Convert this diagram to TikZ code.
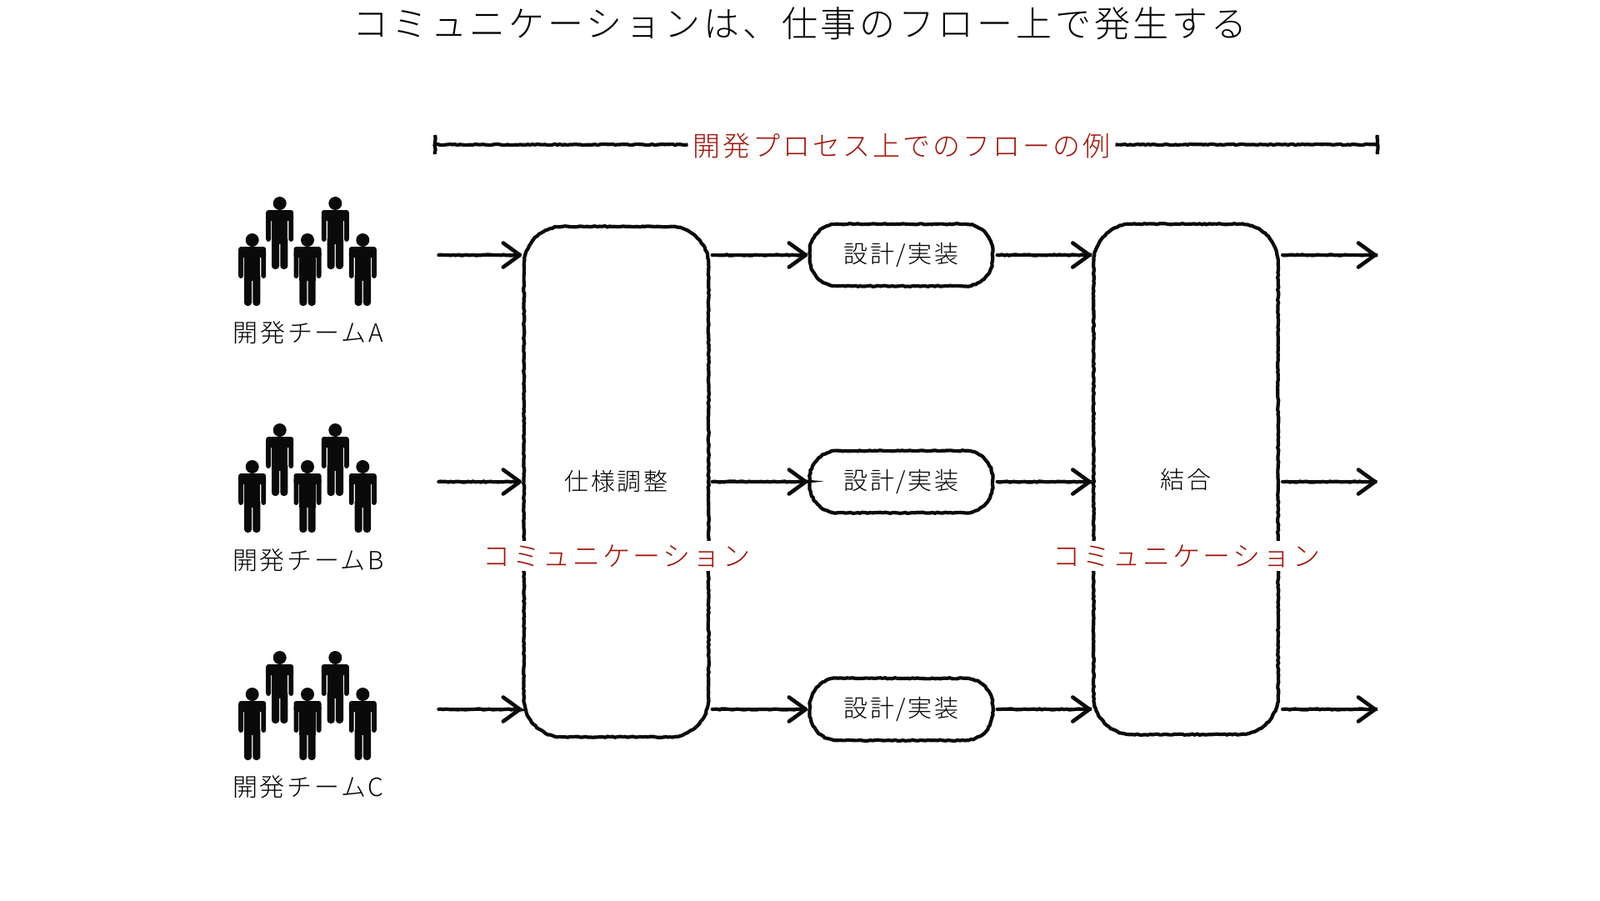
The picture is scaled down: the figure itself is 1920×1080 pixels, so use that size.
\documentclass[tikz,border=0pt]{standalone}
\usepackage{fontspec}
\usetikzlibrary{arrows.meta,decorations.pathmorphing}
\setmainfont{Noto Sans CJK JP Light}
\newfontfamily\jptrack[LetterSpace=9]{Noto Sans CJK JP Light}
\definecolor{inkred}{HTML}{A01508}
\definecolor{inkblack}{HTML}{0A0A0A}
\pgfdeclarearrow{
  name=VBarb,
  setup code={
    \pgfarrowssettipend{3pt}
    \pgfarrowssetbackend{-20pt}
    \pgfarrowssetlineend{-3pt}
    \pgfarrowssetvisualbackend{-2pt}
    \pgfarrowshullpoint{3pt}{0pt}
    \pgfarrowshullpoint{-22pt}{16pt}
    \pgfarrowshullpoint{-22pt}{-16pt}
  },
  drawing code={
    \pgfsetdash{}{0pt}\pgfsetroundcap\pgfsetroundjoin\pgfsetlinewidth{4.6pt}
    \pgfpathmoveto{\pgfpoint{-20pt}{14.5pt}}
    \pgfpathlineto{\pgfpoint{0pt}{0pt}}
    \pgfpathlineto{\pgfpoint{-20pt}{-14.5pt}}
    \pgfusepathqstroke
  }
}
\newcommand\chalkoutline[2]{%
  \draw[chalk] ([xshift=#2pt]#1.north west) -- ([xshift=-#2pt]#1.north east)
    .. controls ([xshift=-0.45*#2pt]#1.north east) and ([yshift=-0.45*#2pt]#1.north east) .. ([yshift=-#2pt]#1.north east)
    -- ([yshift=#2pt]#1.south east)
    .. controls ([yshift=0.45*#2pt]#1.south east) and ([xshift=-0.45*#2pt]#1.south east) .. ([xshift=-#2pt]#1.south east)
    -- ([xshift=#2pt]#1.south west)
    .. controls ([xshift=0.45*#2pt]#1.south west) and ([yshift=0.45*#2pt]#1.south west) .. ([yshift=#2pt]#1.south west)
    -- ([yshift=-#2pt]#1.north west)
    .. controls ([yshift=-0.45*#2pt]#1.north west) and ([xshift=0.45*#2pt]#1.north west) .. cycle;
}
\tikzset{
  chalk/.style={draw=inkblack,line width=4.2pt,decorate,decoration={random steps,segment length=3pt,amplitude=0.6pt}},
  flow/.style={draw=inkblack,line width=3.4pt,line cap=round,-VBarb,shorten >=2pt,
    preaction={chalk,-,shorten >=12pt}},
  bigbox/.style={minimum width=221pt,minimum height=612pt,inner sep=0pt,font=\jptrack\fontsize{29}{32}\selectfont,text=black},
  pillbox/.style={minimum width=219pt,minimum height=74pt,inner sep=0pt,font=\jptrack\fontsize{29}{32}\selectfont,text=black},
  teamlabel/.style={font=\jptrack\fontsize{30}{33}\selectfont,text=black},
  redlabel/.style={font=\jptrack\fontsize{33}{37}\selectfont,text=inkred,fill=white,inner xsep=6pt,inner ysep=4pt},
  person/.pic={
    \fill[inkblack] (0,-79) circle (8pt);
    \fill[inkblack,rounded corners=3pt] (-16.5,-71) rectangle (16.5,-58);
    \fill[inkblack,rounded corners=3pt] (-16.5,-66) rectangle (-10.7,-33);
    \fill[inkblack,rounded corners=3pt] (10.7,-66) rectangle (16.5,-33);
    \fill[inkblack] (-9.7,-68) rectangle (9.7,-30);
    \fill[inkblack,rounded corners=4pt] (-9.7,-40) rectangle (-0.6,0);
    \fill[inkblack,rounded corners=4pt] (0.6,-40) rectangle (9.7,0);
  }
}
\begin{document}
\begin{tikzpicture}[x=1pt,y=-1pt]
\useasboundingbox[fill=white] (0,0) rectangle (1920,1080);
\node[font=\jptrack\fontsize{43}{47}\selectfont,text=black] (title) at (960,28) {コミュニケーションは、仕事のフロー上で発生する};
% bracket
\node[redlabel,fill=none] (flowlabel) at (1082,175) {開発プロセス上でのフローの例};
\coordinate (brL) at (522,173.5);
\coordinate (brR) at (1653,173.5);
\coordinate (brLt) at (522,162);
\coordinate (brLb) at (522,185);
\coordinate (brRt) at (1653,162);
\coordinate (brRb) at (1653,185);
\draw[chalk] (brL) -- (brL -| flowlabel.west);
\draw[chalk] (brR -| flowlabel.east) -- (brR);
\draw[chalk] (brLt) -- (brLb);
\draw[chalk] (brRt) -- (brRb);
% big boxes
\node[bigbox] (adjust) at (739.5,578) {\raisebox{-2.4pt}{仕様調整}};
\node[bigbox] (merge) at (1423,575) {\raisebox{-1.5pt}{結合}};
\chalkoutline{adjust}{46}
\chalkoutline{merge}{46}
\node[redlabel] (commA) at (740,667) {コミュニケーション};
\node[redlabel] (commB) at (1424,667) {コミュニケーション};
% rows
\foreach \r/\y/\feet/\ly/\t in {a/306/367/399/A,b/578/639/672/B,c/851/912/944/C}{
  \pic at (335.7,\feet-44) {person};
  \pic at (402.3,\feet-44) {person};
  \pic at (302.7,\feet) {person};
  \pic at (369,\feet) {person};
  \pic at (435.3,\feet) {person};
  \node[teamlabel] (team\r) at (370,\ly) {開発チーム\t};
  \node[pillbox] (impl\r) at (1081.5,\y) {\raisebox{-1.5pt}{設計/実装}};
  \chalkoutline{impl\r}{33}
  \coordinate (in\r) at (526,\y);
  \coordinate (out\r) at (1655,\y);
  \draw[flow] (in\r) -- (in\r -| adjust.west);
  \draw[flow] ([xshift=4pt]in\r -| adjust.east) -- (impl\r.west);
  \draw[flow] ([xshift=5pt]impl\r.east) -- (in\r -| merge.west);
  \draw[flow] ([xshift=5pt]in\r -| merge.east) -- (out\r);
}
\end{tikzpicture}
\end{document}
